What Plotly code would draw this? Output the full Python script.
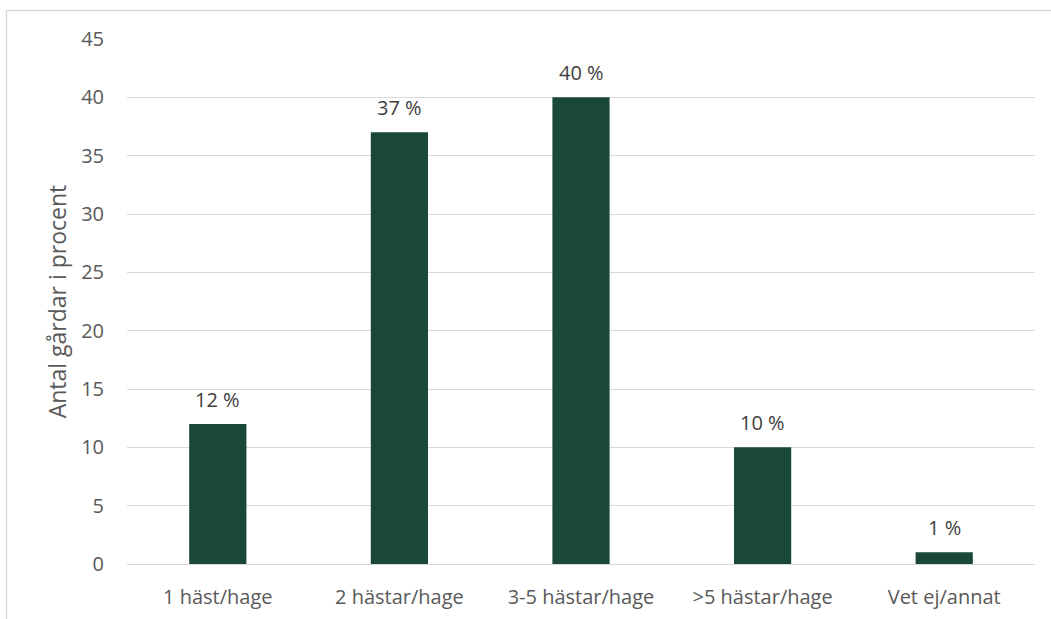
import plotly.graph_objects as go

categories = ["1 häst/hage", "2 hästar/hage", "3-5 hästar/hage", ">5 hästar/hage", "Vet ej/annat"]
values = [12, 37, 40, 10, 1]
y_ticks = [0, 5, 10, 15, 20, 25, 30, 35, 40, 45]

BAR = "#1a4838"
TXT = "#595959"
GRID = "#d9d9d9"
FONT = "Open Sans, sans-serif"

W, H = 1051, 619
L, R, T, B = 127, 16, 39, 55

fig = go.Figure(go.Bar(
    x=categories, y=values, marker=dict(color=BAR, line=dict(width=0)),
    width=0.315,
))

for c, v in zip(categories, values):
    fig.add_annotation(x=c, y=v, text=f"{v} %", showarrow=False,
                       yshift=25, font=dict(size=20, color="#404040", family=FONT))

# light frame around the chart area (left and top edges)
pw, ph = W - L - R, H - T - B
fx0 = (6.5 - L) / pw
fy1 = (H - B - 10.5) / ph
fig.add_shape(type="line", xref="paper", yref="paper", x0=fx0, x1=fx0, y0=-1, y1=fy1,
              line=dict(color=GRID, width=1.5))
fig.add_shape(type="line", xref="paper", yref="paper", x0=fx0, x1=2, y0=fy1, y1=fy1,
              line=dict(color=GRID, width=1.5))

fig.update_layout(
    width=W, height=H,
    margin=dict(l=L, r=R, t=T, b=B),
    plot_bgcolor="white", paper_bgcolor="white",
    font=dict(family=FONT, color=TXT, size=20),
    showlegend=False,
    xaxis=dict(showgrid=False, showline=False, ticks="", ticklabelstandoff=19,
               automargin=False, tickfont=dict(size=20, color=TXT)),
    yaxis=dict(range=[0, 45], tickvals=y_ticks, showgrid=True, gridcolor=GRID, gridwidth=1,
               zeroline=True, zerolinecolor=GRID, zerolinewidth=1,
               showline=False, ticks="", ticklabelstandoff=22, automargin=False,
               tickfont=dict(size=20, color=TXT),
               title=dict(text="Antal gårdar i procent", font=dict(size=23, color=TXT), standoff=8)),
)

fig.write_html("out.html")
